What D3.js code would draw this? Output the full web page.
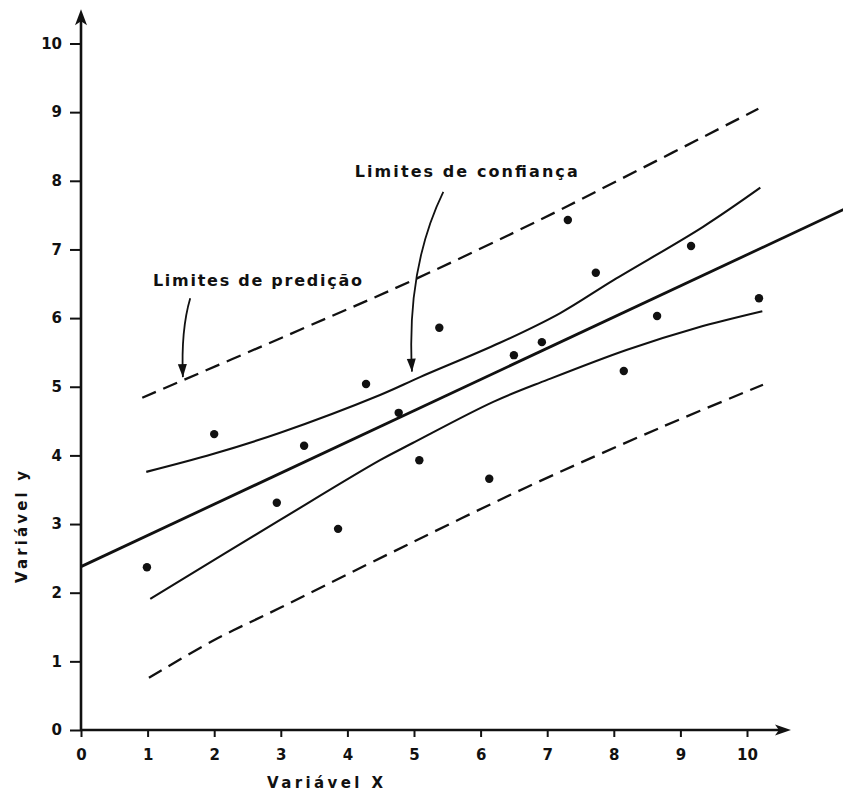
<!DOCTYPE html>
<html>
<head>
<meta charset="utf-8">
<script src="https://cdn.jsdelivr.net/npm/d3@7"></script>
<style>
  html, body { margin: 0; padding: 0; background: #fff; }
  svg text { font-family: "DejaVu Sans", sans-serif; font-weight: bold; fill: #111; }
</style>
</head>
<body>
<svg id="chart" width="843" height="791"></svg>
<script>
// Tick labels on both axes
const xTickValues = [0, 1, 2, 3, 4, 5, 6, 7, 8, 9, 10];
const yTickValues = [0, 1, 2, 3, 4, 5, 6, 7, 8, 9, 10];

// Observed points (Variável X, Variável y)
const obsX = [0.99, 2.00, 2.94, 3.35, 3.86, 4.28, 4.77, 5.08, 5.38, 6.13, 6.50, 6.92, 7.31, 7.73, 8.15, 8.65, 9.16, 10.18];
const obsY = [2.37, 4.31, 3.31, 4.14, 2.93, 5.04, 4.62, 3.93, 5.86, 3.66, 5.46, 5.65, 7.43, 6.66, 5.23, 6.03, 7.05, 6.29];

// Fitted regression line (two end points)
const regX = [0, 11.6];
const regY = [2.38, 7.65];

// Confidence limits for the mean response
const confUpperX = [0.98, 1.98, 2.99, 4.49, 5.09, 6.29, 7.19, 7.99, 9.34, 10.20];
const confUpperY = [3.76, 4.02, 4.33, 4.88, 5.14, 5.64, 6.07, 6.55, 7.33, 7.90];
const confLowerX = [1.04, 2.99, 4.49, 4.98, 6.19, 7.00, 8.20, 9.25, 10.23];
const confLowerY = [1.91, 3.06, 3.93, 4.18, 4.78, 5.10, 5.54, 5.86, 6.10];

// Prediction limits for a new observation
const predUpperX = [0.92, 3.29, 4.98, 6.89, 7.79, 10.17];
const predUpperY = [4.84, 5.83, 6.55, 7.43, 7.87, 9.05];
const predLowerX = [1.02, 1.98, 2.99, 4.38, 6.70, 8.69, 10.24];
const predLowerY = [0.76, 1.30, 1.78, 2.45, 3.54, 4.40, 5.03];

// Annotation labels and their pointer curves (data units)
const notePredText = "Limites de predição";
const notePredPos = [1.08, 6.47];
const notePredArrow = [[1.64, 6.29], [1.50, 5.83], [1.53, 5.14]];
const noteConfText = "Limites de confiança";
const noteConfPos = [4.11, 8.06];
const noteConfArrow = [[5.44, 7.84], [5.09, 7.14], [4.91, 6.26], [4.97, 5.22]];

const svg = d3.select("#chart");

const x = d3.scaleLinear().domain([0, 10]).range([81, 747]);
const y = d3.scaleLinear().domain([0, 10]).range([730, 43.5]);

const ink = "#111";

// ---- axes ----
const yAxis = d3.axisLeft(y).tickValues(yTickValues).tickSize(11).tickSizeOuter(0).tickPadding(8).tickFormat(d3.format("d"));
const xAxis = d3.axisBottom(x).tickValues(xTickValues).tickSize(7).tickSizeOuter(0).tickPadding(12).tickFormat(d3.format("d"));

const gy = svg.append("g").attr("transform", `translate(${x(0)},0)`).call(yAxis);
const gx = svg.append("g").attr("transform", `translate(0,${y(0)})`).call(xAxis);
[gx, gy].forEach(g => {
  g.select(".domain").remove();
  g.selectAll(".tick line").attr("stroke", ink).attr("stroke-width", 2);
  g.selectAll(".tick text").attr("font-size", 15).attr("fill", ink)
    .style("font-family", "'DejaVu Sans', sans-serif").style("font-weight", "bold");
});

// axis lines with arrowheads
const yTop = 10.5, xEnd = 10.66;
svg.append("line").attr("x1", x(0)).attr("y1", y(0)).attr("x2", x(0)).attr("y2", y(yTop) + 8)
  .attr("stroke", ink).attr("stroke-width", 2.6);
svg.append("line").attr("x1", x(0)).attr("y1", y(0)).attr("x2", x(xEnd) - 8).attr("y2", y(0))
  .attr("stroke", ink).attr("stroke-width", 2.6);
svg.append("path")
  .attr("d", `M${x(0)},${y(yTop)} L${x(0) - 6},${y(yTop) + 16} L${x(0)},${y(yTop) + 12} L${x(0) + 6},${y(yTop) + 16} Z`)
  .attr("fill", ink);
svg.append("path")
  .attr("d", `M${x(xEnd)},${y(0)} L${x(xEnd) - 16},${y(0) - 5.5} L${x(xEnd) - 12},${y(0)} L${x(xEnd) - 16},${y(0) + 5.5} Z`)
  .attr("fill", ink);

// axis titles
svg.append("text")
  .attr("x", 267).attr("y", 788)
  .attr("font-size", 15)
  .attr("textLength", 116).attr("lengthAdjust", "spacing")
  .text("Variável X");
svg.append("text")
  .attr("transform", "translate(27,583) rotate(-90)")
  .attr("font-size", 15)
  .attr("textLength", 112).attr("lengthAdjust", "spacing")
  .text("Variável y");

// ---- curves ----
const line = d3.line().x(d => x(d[0])).y(d => y(d[1])).curve(d3.curveCatmullRom.alpha(0.5));
const zipXY = (xs, ys) => xs.map((v, i) => [v, ys[i]]);

const plot = svg.append("g");

plot.append("path").datum(zipXY(regX, regY))
  .attr("d", d3.line().x(d => x(d[0])).y(d => y(d[1])))
  .attr("fill", "none").attr("stroke", ink).attr("stroke-width", 2.8);

[[confUpperX, confUpperY], [confLowerX, confLowerY]].forEach(([xs, ys]) => {
  plot.append("path").datum(zipXY(xs, ys))
    .attr("d", line)
    .attr("fill", "none").attr("stroke", ink).attr("stroke-width", 2.1);
});

[[predUpperX, predUpperY], [predLowerX, predLowerY]].forEach(([xs, ys]) => {
  plot.append("path").datum(zipXY(xs, ys))
    .attr("d", line)
    .attr("fill", "none").attr("stroke", ink).attr("stroke-width", 2.3)
    .attr("stroke-dasharray", "15,8");
});

// ---- observations ----
plot.selectAll("circle.obs").data(zipXY(obsX, obsY)).join("circle")
  .attr("class", "obs")
  .attr("cx", d => x(d[0])).attr("cy", d => y(d[1]))
  .attr("r", 4.2).attr("fill", ink);

// ---- annotations ----
function pointer(pts) {
  const p = pts.map(d => [x(d[0]), y(d[1])]);
  const d = p.length === 3
    ? `M${p[0]} Q${p[1]} ${p[2]}`
    : `M${p[0]} C${p[1]} ${p[2]} ${p[3]}`;
  svg.append("path").attr("d", d).attr("fill", "none").attr("stroke", ink).attr("stroke-width", 1.8);
  const tip = p[p.length - 1], prev = p[p.length - 2];
  const ang = Math.atan2(tip[1] - prev[1], tip[0] - prev[0]);
  const L = 13, W = 4.5;
  const bx = tip[0] - L * Math.cos(ang), by = tip[1] - L * Math.sin(ang);
  const nx = -Math.sin(ang) * W, ny = Math.cos(ang) * W;
  svg.append("path")
    .attr("d", `M${tip} L${bx + nx},${by + ny} L${bx - nx},${by - ny} Z`)
    .attr("fill", ink);
}

svg.append("text")
  .attr("x", x(notePredPos[0])).attr("y", y(notePredPos[1]))
  .attr("font-size", 16)
  .attr("textLength", 209).attr("lengthAdjust", "spacing")
  .text(notePredText);
pointer(notePredArrow);

svg.append("text")
  .attr("x", x(noteConfPos[0])).attr("y", y(noteConfPos[1]))
  .attr("font-size", 16)
  .attr("textLength", 223).attr("lengthAdjust", "spacing")
  .text(noteConfText);
pointer(noteConfArrow);
</script>
</body>
</html>
